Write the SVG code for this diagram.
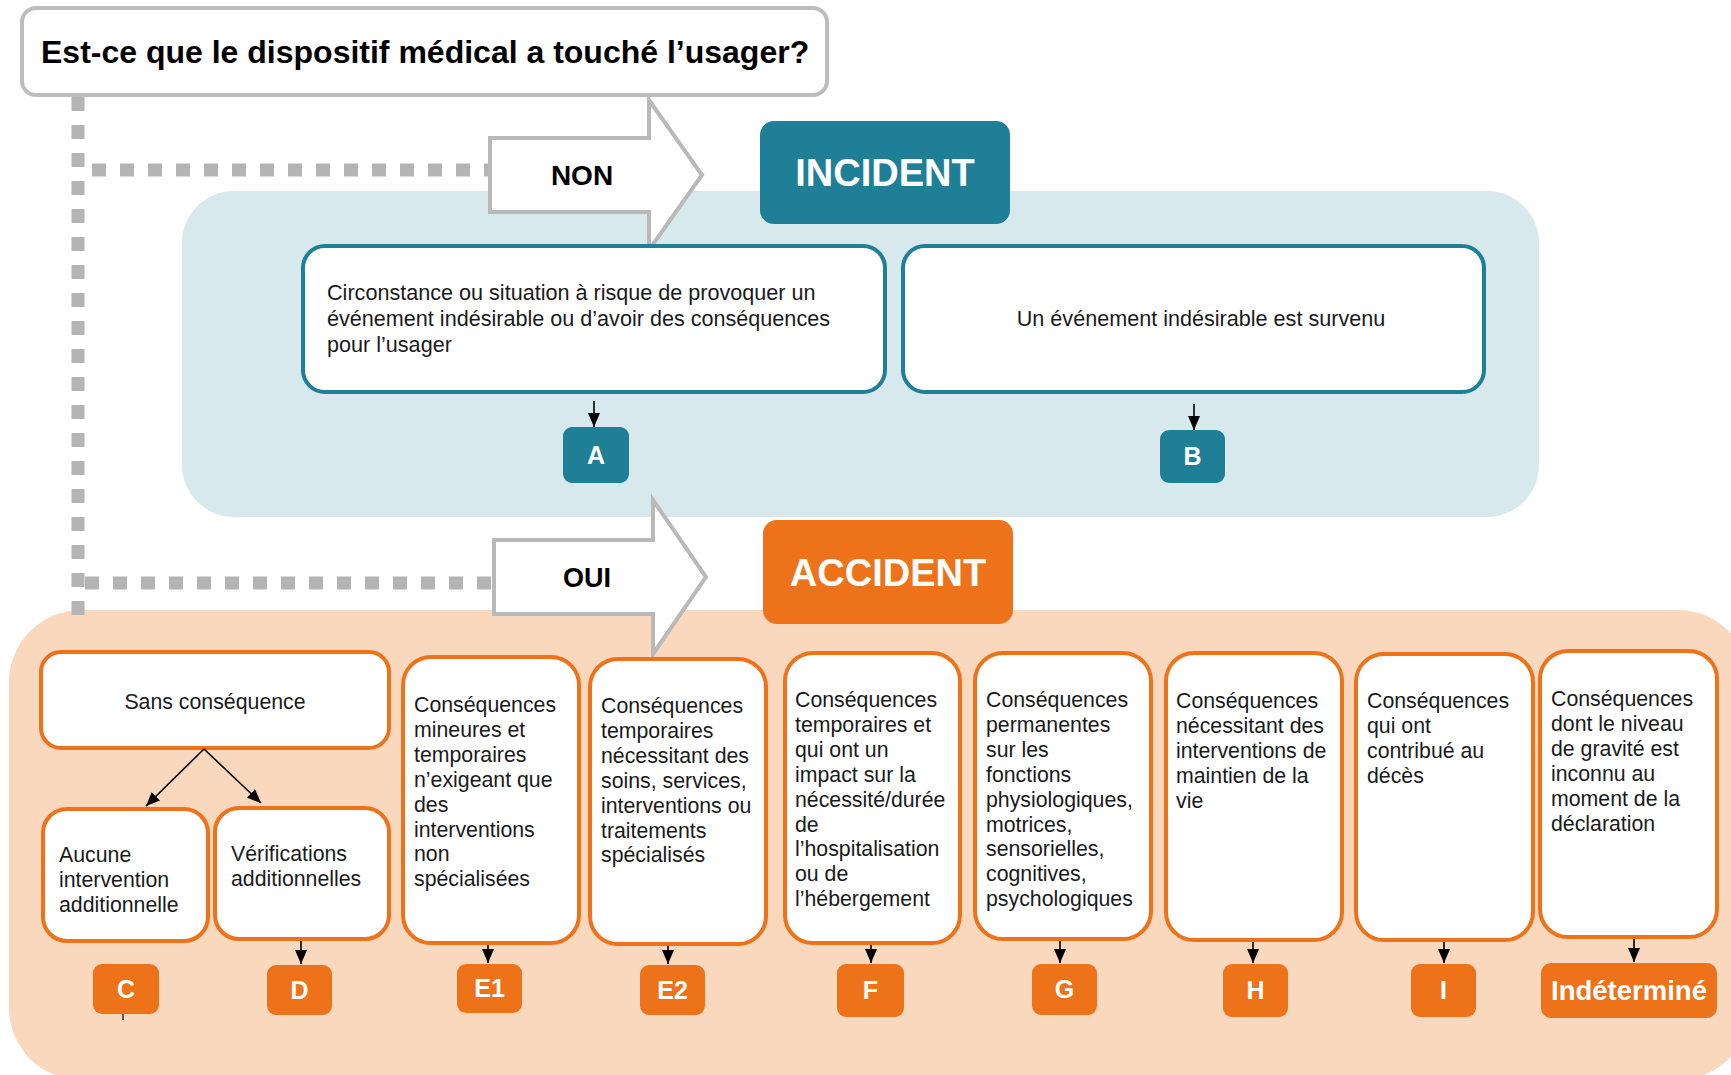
<svg xmlns="http://www.w3.org/2000/svg" width="1731" height="1075" viewBox="0 0 1731 1075">
<defs>
<marker id="ah" markerUnits="userSpaceOnUse" markerWidth="14" markerHeight="12" viewBox="0 0 14 12" refX="14" refY="6" orient="auto">
<path d="M0,0 L14,6 L0,12 z" fill="#000"/>
</marker>
<style>
.t{font-family:"Liberation Sans",Arial,Helvetica,sans-serif;font-size:21.3px;fill:#1a1a1a}
.tu{font-size:21.6px}
.b{font-family:"Liberation Sans",Arial,Helvetica,sans-serif;font-weight:bold}
.tb{fill:#fff;stroke:#1e7f96;stroke-width:4}
.ob{fill:#fff;stroke:#ee7219;stroke-width:4}
.tl{fill:#1e7f96}
.ol{fill:#ee7219}
.lw{font-family:"Liberation Sans",Arial,Helvetica,sans-serif;font-weight:bold;font-size:25px;fill:#fff;text-anchor:middle}
.dash{fill:none;stroke:#b4b4b4;stroke-width:13;stroke-dasharray:14 14}
.blk{fill:#fff;stroke:#b9b9b9;stroke-width:4;stroke-linejoin:miter}
.con{fill:none;stroke:#000;stroke-width:1.6;marker-end:url(#ah)}
</style>
</defs>
<rect width="1731" height="1075" fill="#fff"/>
<g id="bg-incident"><rect x="182" y="191" width="1357" height="326" rx="52" fill="#d8e9ee"/></g>
<g id="bg-accident"><rect x="9" y="610" width="1741" height="470" rx="72" fill="#fad8be"/></g>

<g id="dashes">
<path class="dash" d="M78,97 L78,615"/>
<path class="dash" d="M92,170 L490,170"/>
<path class="dash" d="M85,583 L494,583"/>
</g>

<g id="question">
<rect x="22" y="8" width="805" height="87" rx="14" fill="#fff" stroke="#bdbdbd" stroke-width="4"/>
<text class="b" x="41" y="63" font-size="32" fill="#000">Est-ce que le dispositif médical a touché l’usager?</text>
</g>

<g id="arrow-non">
<polygon class="blk" points="490,138 649,138 649,100 702,175 649,250 649,212 490,212"/>
<text class="b" x="582" y="185" font-size="28" text-anchor="middle" fill="#000">NON</text>
</g>
<g id="arrow-oui">
<polygon class="blk" points="494,540 653,540 653,500 706,577 653,654 653,614 494,614"/>
<text class="b" x="587" y="587" font-size="27" text-anchor="middle" fill="#000">OUI</text>
</g>

<g id="incident">
<rect class="tl" x="760" y="121" width="250" height="103" rx="14"/>
<text class="b" x="885" y="186" font-size="38" text-anchor="middle" fill="#fff">INCIDENT</text>
</g>
<g id="accident">
<rect class="ol" x="763" y="520" width="250" height="104" rx="14"/>
<text class="b" x="888" y="586" font-size="38" text-anchor="middle" fill="#fff">ACCIDENT</text>
</g>

<g id="box-circonstance">
<rect class="tb" x="303" y="246" width="582" height="146" rx="22"/>
<text class="t tu"><tspan x="327" y="300">Circonstance ou situation à risque de provoquer un</tspan><tspan x="327" y="326">événement indésirable ou d’avoir des conséquences</tspan><tspan x="327" y="352">pour l’usager</tspan></text>
</g>
<g id="box-survenu">
<rect class="tb" x="903" y="246" width="581" height="146" rx="22"/>
<text class="t tu" x="1201" y="326" text-anchor="middle">Un événement indésirable est survenu</text>
</g>
<g id="label-A"><rect class="tl" x="563" y="427" width="66" height="56" rx="9"/><text class="lw" x="596" y="464">A</text></g>
<g id="label-B"><rect class="tl" x="1160" y="430" width="65" height="53" rx="9"/><text class="lw" x="1192.5" y="465">B</text></g>

<g id="box-sans">
<rect class="ob" x="41" y="652" width="348" height="96" rx="20"/>
<text class="t" x="215" y="709" text-anchor="middle">Sans conséquence</text>
</g>
<g id="box-aucune">
<rect class="ob" x="43" y="809" width="165" height="132" rx="24"/>
<text class="t"><tspan x="59" y="862">Aucune</tspan><tspan x="59" dy="24.9">intervention</tspan><tspan x="59" dy="24.9">additionnelle</tspan></text>
</g>
<g id="box-verif">
<rect class="ob" x="215" y="808" width="174" height="131" rx="24"/>
<text class="t"><tspan x="231" y="861">Vérifications</tspan><tspan x="231" dy="24.9">additionnelles</tspan></text>
</g>
<g id="box-e1">
<rect class="ob" x="403" y="657" width="176" height="286" rx="28"/>
<text class="t"><tspan x="414" y="712">Conséquences</tspan><tspan x="414" dy="24.9">mineures et</tspan><tspan x="414" dy="24.9">temporaires</tspan><tspan x="414" dy="24.9">n’exigeant que</tspan><tspan x="414" dy="24.9">des</tspan><tspan x="414" dy="24.9">interventions</tspan><tspan x="414" dy="24.9">non</tspan><tspan x="414" dy="24.9">spécialisées</tspan></text>
</g>
<g id="box-e2">
<rect class="ob" x="590" y="659" width="176" height="285" rx="28"/>
<text class="t"><tspan x="601" y="713">Conséquences</tspan><tspan x="601" dy="24.9">temporaires</tspan><tspan x="601" dy="24.9">nécessitant des</tspan><tspan x="601" dy="24.9">soins, services,</tspan><tspan x="601" dy="24.9">interventions ou</tspan><tspan x="601" dy="24.9">traitements</tspan><tspan x="601" dy="24.9">spécialisés</tspan></text>
</g>
<g id="box-f">
<rect class="ob" x="785" y="653" width="175" height="290" rx="28"/>
<text class="t"><tspan x="795" y="707">Conséquences</tspan><tspan x="795" dy="24.9">temporaires et</tspan><tspan x="795" dy="24.9">qui ont un</tspan><tspan x="795" dy="24.9">impact sur la</tspan><tspan x="795" dy="24.9">nécessité/durée</tspan><tspan x="795" dy="24.9">de</tspan><tspan x="795" dy="24.9">l’hospitalisation</tspan><tspan x="795" dy="24.9">ou de</tspan><tspan x="795" dy="24.9">l’hébergement</tspan></text>
</g>
<g id="box-g">
<rect class="ob" x="975" y="653" width="176" height="286" rx="28"/>
<text class="t"><tspan x="986" y="707">Conséquences</tspan><tspan x="986" dy="24.9">permanentes</tspan><tspan x="986" dy="24.9">sur les</tspan><tspan x="986" dy="24.9">fonctions</tspan><tspan x="986" dy="24.9">physiologiques,</tspan><tspan x="986" dy="24.9">motrices,</tspan><tspan x="986" dy="24.9">sensorielles,</tspan><tspan x="986" dy="24.9">cognitives,</tspan><tspan x="986" dy="24.9">psychologiques</tspan></text>
</g>
<g id="box-h">
<rect class="ob" x="1166" y="653" width="176" height="287" rx="28"/>
<text class="t"><tspan x="1176" y="708">Conséquences</tspan><tspan x="1176" dy="24.9">nécessitant des</tspan><tspan x="1176" dy="24.9">interventions de</tspan><tspan x="1176" dy="24.9">maintien de la</tspan><tspan x="1176" dy="24.9">vie</tspan></text>
</g>
<g id="box-i">
<rect class="ob" x="1356" y="654" width="177" height="286" rx="28"/>
<text class="t"><tspan x="1367" y="708">Conséquences</tspan><tspan x="1367" dy="24.9">qui ont</tspan><tspan x="1367" dy="24.9">contribué au</tspan><tspan x="1367" dy="24.9">décès</tspan></text>
</g>
<g id="box-ind">
<rect class="ob" x="1540" y="651" width="177" height="286" rx="28"/>
<text class="t"><tspan x="1551" y="706">Conséquences</tspan><tspan x="1551" dy="24.9">dont le niveau</tspan><tspan x="1551" dy="24.9">de gravité est</tspan><tspan x="1551" dy="24.9">inconnu au</tspan><tspan x="1551" dy="24.9">moment de la</tspan><tspan x="1551" dy="24.9">déclaration</tspan></text>
</g>

<g id="label-C"><rect class="ol" x="93" y="964" width="66" height="50" rx="9"/><text class="lw" x="126" y="998">C</text></g>
<g id="label-D"><rect class="ol" x="267" y="965" width="65" height="50" rx="9"/><text class="lw" x="299.5" y="999">D</text></g>
<g id="label-E1"><rect class="ol" x="457" y="964" width="65" height="49" rx="9"/><text class="lw" x="489.5" y="997">E1</text></g>
<g id="label-E2"><rect class="ol" x="640" y="965" width="65" height="50" rx="9"/><text class="lw" x="672.5" y="999">E2</text></g>
<g id="label-F"><rect class="ol" x="837" y="964" width="67" height="53" rx="9"/><text class="lw" x="870.5" y="999">F</text></g>
<g id="label-G"><rect class="ol" x="1032" y="964" width="65" height="51" rx="9"/><text class="lw" x="1064.5" y="998">G</text></g>
<g id="label-H"><rect class="ol" x="1223" y="964" width="65" height="53" rx="9"/><text class="lw" x="1255.5" y="999">H</text></g>
<g id="label-I"><rect class="ol" x="1411" y="964" width="65" height="53" rx="9"/><text class="lw" x="1443.5" y="999">I</text></g>
<g id="label-Ind"><rect class="ol" x="1541" y="963" width="176" height="55" rx="10"/><text class="lw" x="1629" y="1000" style="font-size:27.5px">Indéterminé</text></g>

<g id="connectors">
<line class="con" x1="594" y1="401" x2="594" y2="427"/>
<line class="con" x1="1194" y1="404" x2="1194" y2="430"/>
<line class="con" x1="204" y1="749" x2="146" y2="806"/>
<line class="con" x1="204" y1="749" x2="261" y2="803"/>
<line class="con" x1="301" y1="941" x2="301" y2="964"/>
<line class="con" x1="488" y1="945" x2="488" y2="963"/>
<line class="con" x1="668" y1="946" x2="668" y2="964"/>
<line class="con" x1="871" y1="945" x2="871" y2="963"/>
<line class="con" x1="1060" y1="941" x2="1060" y2="963"/>
<line class="con" x1="1253" y1="942" x2="1253" y2="963"/>
<line class="con" x1="1444" y1="942" x2="1444" y2="963"/>
<line class="con" x1="1634" y1="939" x2="1634" y2="962"/>
<line x1="123" y1="1014" x2="123" y2="1020" stroke="#000" stroke-width="1.2"/>
</g>
</svg>
